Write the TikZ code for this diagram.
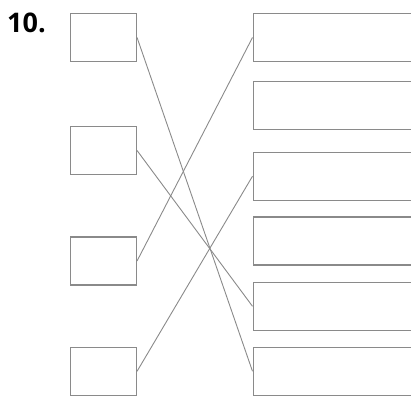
\documentclass[tikz,border=0pt]{standalone}
\usepackage{fontspec}
\setmainfont{Open Sans}
\definecolor{boxgray}{HTML}{8A8A8A}
\begin{document}
\begin{tikzpicture}[x=1pt,y=-1pt,
  lbox/.style={draw=boxgray,line width=1.1pt,minimum width=66pt,minimum height=48pt,inner sep=0pt},
  rbox/.style={draw=boxgray,line width=1.1pt,minimum width=170pt,minimum height=48pt,inner sep=0pt,anchor=west},
  link/.style={draw=boxgray,line width=0.9pt}]
\useasboundingbox (0,0) rectangle (411,396);
\clip (0,0) rectangle (411,396);
\node[anchor=base west,inner sep=0pt,font=\bfseries\fontsize{27}{30}\selectfont] (num) at (7,33) {10.};
\node[lbox] (L1) at (103.5,37.5) {};
\node[lbox] (L2) at (103.5,150.5) {};
\node[lbox] (L3) at (103.5,261) {};
\node[lbox] (L4) at (103.5,371.3) {};
\node[rbox] (R1) at (252.5,37.5) {};
\node[rbox] (R2) at (252.5,105.5) {};
\node[rbox] (R3) at (252.5,176.2) {};
\node[rbox] (R4) at (252.5,241) {};
\node[rbox] (R5) at (252.5,306.3) {};
\node[rbox] (R6) at (252.5,371.3) {};
\draw[link] (L1.east) -- (R6.west);
\draw[link] (L2.east) -- (R5.west);
\draw[link] (L3.east) -- (R1.west);
\draw[link] (L4.east) -- (R3.west);
\end{tikzpicture}
\end{document}
